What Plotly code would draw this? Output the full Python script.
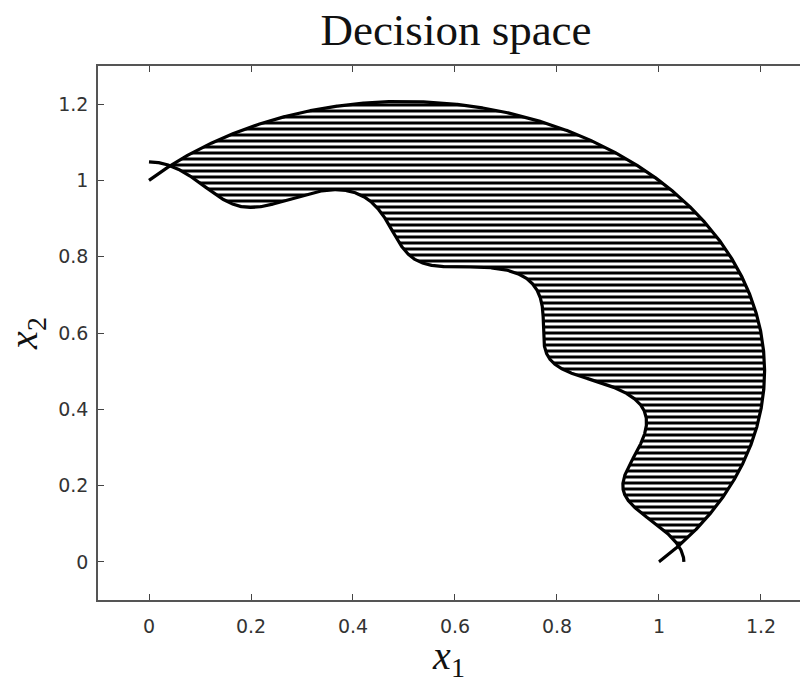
import numpy as np
import plotly.graph_objects as go

# TNK test problem: constraint definitions
circle_center = (0.5, 0.5)
circle_radius_sq = 0.5
wave_base = 1.0
wave_amp = 0.1
wave_freq = 16

x_ticks = [0, 0.2, 0.4, 0.6, 0.8, 1, 1.2]
y_ticks = [0, 0.2, 0.4, 0.6, 0.8, 1, 1.2]

n = 2000

# wavy constraint boundary: x^2 + y^2 = 1 + 0.1 cos(16 atan(x/y))
phi = np.linspace(0, np.pi / 2, n)
r_w = np.sqrt(wave_base + wave_amp * np.cos(wave_freq * phi))
wx, wy = r_w * np.sin(phi), r_w * np.cos(phi)

# circular constraint boundary in the first quadrant
rc = np.sqrt(circle_radius_sq)
t = np.linspace(3 * np.pi / 4, -np.pi / 4, n)
cx, cy = circle_center[0] + rc * np.cos(t), circle_center[1] + rc * np.sin(t)


def g1(x, y):
    return x**2 + y**2 - wave_base - wave_amp * np.cos(wave_freq * np.arctan2(x, y))


def g2(x, y):
    return (x - circle_center[0])**2 + (y - circle_center[1])**2 - circle_radius_sq


# feasible region outline: circle arc outside the wave, then the wave back inside the circle
arc_mask = g1(cx, cy) >= 0
wave_mask = g2(wx, wy) <= 0
px = np.concatenate([cx[arc_mask], wx[wave_mask][::-1]])
py = np.concatenate([cy[arc_mask], wy[wave_mask][::-1]])

fig = go.Figure()
fig.add_trace(go.Scatter(
    x=px, y=py, mode="none", fill="toself",
    fillpattern=dict(shape="-", size=6, solidity=0.5, fgcolor="black",
                     bgcolor="white", fillmode="replace"),
    hoverinfo="skip", showlegend=False,
))
fig.add_trace(go.Scatter(x=cx, y=cy, mode="lines", line=dict(color="black", width=3.2),
                         showlegend=False))
fig.add_trace(go.Scatter(x=wx, y=wy, mode="lines", line=dict(color="black", width=3.2),
                         showlegend=False))

axis_common = dict(
    showgrid=False, zeroline=False, showline=True, linecolor="#555", linewidth=1.5,
    ticks="inside", ticklen=6, tickcolor="#444", tickwidth=1,
    tickfont=dict(family="DejaVu Sans", size=19, color="#333"),
)

label_font = dict(family="Liberation Serif", size=40, color="#111")

fig.update_layout(
    width=800, height=683,
    margin=dict(l=98, r=0, t=66, b=83),
    plot_bgcolor="white", paper_bgcolor="white",
    title=dict(text="Decision space", x=0.57, xanchor="center", y=0.9575, yanchor="middle",
               font=dict(family="Liberation Serif", size=45, color="#111")),
    xaxis=dict(range=[-0.1, 1.2765], tickvals=x_ticks, ticktext=[f"{v:g}" for v in x_ticks],
               mirror="ticks", ticklabelstandoff=8,
               title=dict(text="<i>x</i><sub>1</sub>", standoff=8, font=label_font),
               **axis_common),
    yaxis=dict(range=[-0.1, 1.3], tickvals=y_ticks, ticktext=[f"{v:g}" for v in y_ticks],
               mirror=False, ticklabelstandoff=4,
               title=dict(text="<i>x</i><sub>2</sub>", standoff=8, font=label_font),
               **axis_common),
)

fig.write_html("out.html")
